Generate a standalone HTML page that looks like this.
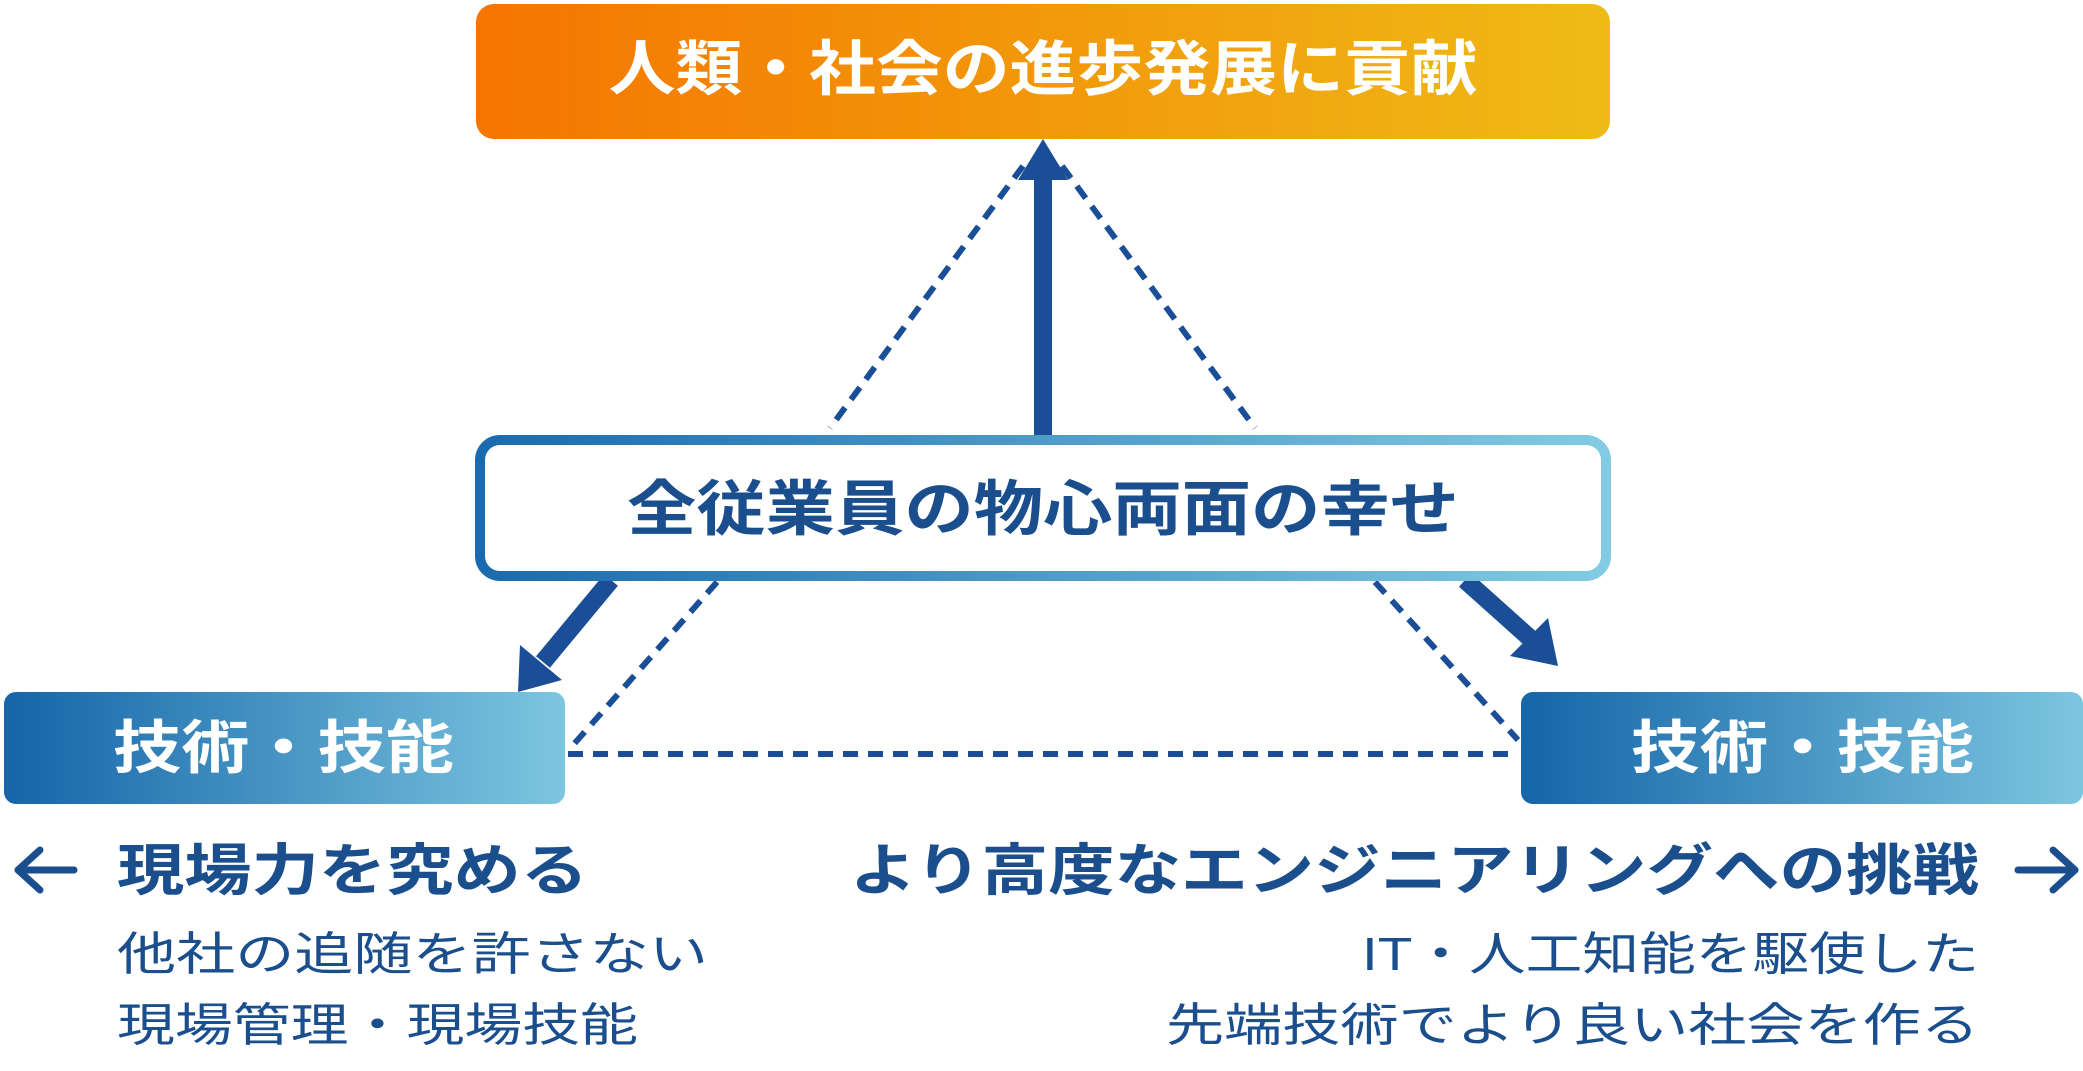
<!DOCTYPE html>
<html><head><meta charset="utf-8"><style>
html,body{margin:0;padding:0;background:#fff;}
svg{display:block}
text{font-family:"Liberation Sans","Noto Sans CJK JP",sans-serif;}
</style></head><body>
<svg width="2083" height="1071" viewBox="0 0 2083 1071" xmlns="http://www.w3.org/2000/svg">
<defs>
<linearGradient id="og" x1="0" x2="1" y1="0" y2="0"><stop offset="0" stop-color="#f57500"/><stop offset="1" stop-color="#efbb16"/></linearGradient>
<linearGradient id="bg" x1="0" x2="1" y1="0" y2="0"><stop offset="0" stop-color="#1565a8"/><stop offset="1" stop-color="#7cc6e0"/></linearGradient>
<linearGradient id="bb" x1="0" x2="1" y1="0" y2="0"><stop offset="0" stop-color="#1a6aae"/><stop offset="1" stop-color="#82cbe3"/></linearGradient>
</defs>
<rect x="476" y="4" width="1134" height="135" rx="18" fill="url(#og)"/>
<text x="1043" y="90" fill="#fff" font-size="60" font-weight="bold" text-anchor="middle" textLength="869" lengthAdjust="spacingAndGlyphs">人類・社会の進歩発展に貢献</text>
<g stroke="#1a4e96" stroke-width="6" stroke-dasharray="15 10" fill="none">
<line x1="1023" y1="166" x2="830" y2="428"/>
<line x1="1062" y1="166" x2="1255" y2="428"/>
<line x1="717" y1="582" x2="574" y2="744"/>
<line x1="1375" y1="582" x2="1518" y2="740"/>
<line x1="568" y1="754" x2="1518" y2="754"/>
</g>
<rect x="1034" y="170" width="18" height="268" fill="#1a4e96"/>
<polygon points="1043,139 1018,180 1068,180" fill="#1a4e96"/>
<line x1="611" y1="580" x2="543" y2="662" stroke="#1a4e96" stroke-width="18"/>
<polygon points="518,692 520,645 562,680" fill="#1a4e96"/>
<line x1="1465" y1="580" x2="1532" y2="640" stroke="#1a4e96" stroke-width="18"/>
<polygon points="1558,666 1510,656 1548,618" fill="#1a4e96"/>
<rect x="480" y="440" width="1126" height="136" rx="20" fill="#fff" stroke="url(#bb)" stroke-width="10"/>
<text x="1043" y="530" fill="#1a4e8c" font-size="60" font-weight="bold" text-anchor="middle" textLength="832" lengthAdjust="spacingAndGlyphs">全従業員の物心両面の幸せ</text>
<rect x="4" y="692" width="561" height="112" rx="12" fill="url(#bg)"/>
<rect x="1521" y="692" width="562" height="112" rx="12" fill="url(#bg)"/>
<text x="113" y="768" fill="#fff" font-size="58" font-weight="bold" textLength="341" lengthAdjust="spacingAndGlyphs">技術・技能</text>
<text x="1631" y="768" fill="#fff" font-size="58" font-weight="bold" textLength="343" lengthAdjust="spacingAndGlyphs">技術・技能</text>
<g stroke="#1a4e8c" stroke-width="7" fill="none" stroke-linecap="round" stroke-linejoin="round">
<polyline points="40,850 18,870 40,890"/><line x1="18" y1="870" x2="74" y2="870"/>
<polyline points="2053,850 2075,870 2053,890"/><line x1="2075" y1="870" x2="2018" y2="870"/>
</g>
<g fill="#1a4e8c">
<text x="117" y="890" font-size="56" font-weight="bold" textLength="471" lengthAdjust="spacingAndGlyphs">現場力を究める</text>
<text x="850" y="890" font-size="56" font-weight="bold" textLength="1129" lengthAdjust="spacingAndGlyphs">より高度なエンジニアリングへの挑戦</text>
<text x="117" y="970" font-size="46" textLength="591" lengthAdjust="spacingAndGlyphs">他社の追随を許さない</text>
<text x="117" y="1041" font-size="46" textLength="521" lengthAdjust="spacingAndGlyphs">現場管理・現場技能</text>
<text x="1362" y="970" font-size="46" textLength="617" lengthAdjust="spacingAndGlyphs">IT・人工知能を駆使した</text>
<text x="1166" y="1041" font-size="46" textLength="813" lengthAdjust="spacingAndGlyphs">先端技術でより良い社会を作る</text>
</g>
</svg>
</body></html>
